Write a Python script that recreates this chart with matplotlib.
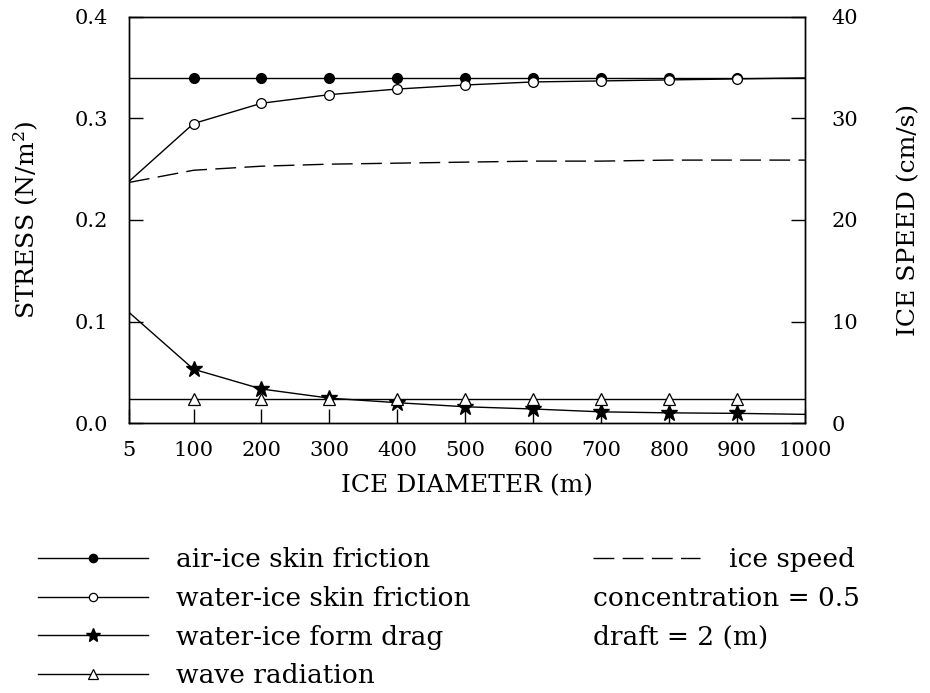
import numpy as np
import matplotlib.pyplot as plt

# ice diameter (m)
diameter = [5, 100, 200, 300, 400, 500, 600, 700, 800, 900, 1000]

# stresses (N/m2)
air_ice_skin = [0.34, 0.34, 0.34, 0.34, 0.34, 0.34, 0.34, 0.34, 0.34, 0.34, 0.34]
water_ice_skin = [0.238, 0.295, 0.315, 0.3235, 0.329, 0.333, 0.336, 0.337, 0.338, 0.339, 0.340]
form_drag = [0.109, 0.053, 0.0335, 0.0245, 0.020, 0.016, 0.0138, 0.011, 0.010, 0.0095, 0.0085]
wave_rad = [0.024] * 11

# ice speed (cm/s)
ice_speed = [23.7, 24.9, 25.3, 25.5, 25.6, 25.7, 25.8, 25.8, 25.9, 25.9, 25.9]

xticks = [5, 100, 200, 300, 400, 500, 600, 700, 800, 900, 1000]

plt.rcParams['font.family'] = ['DejaVu Serif']
plt.rcParams['mathtext.fontset'] = 'dejavuserif'

fig = plt.figure(figsize=(9.3, 6.93), dpi=100)
ax = fig.add_axes([0.1387, 0.3896, 0.7269, 0.5859])
ax2 = ax.twinx()

every = slice(1, 10)
lw = 1.0

l1, = ax.plot(diameter, air_ice_skin, color='k', lw=lw, marker='o', ms=7,
              mfc='k', mec='k', markevery=every)
l2, = ax.plot(diameter, water_ice_skin, color='k', lw=lw, marker='o', ms=7,
              mfc='white', mec='k', mew=0.9, markevery=every)
l3, = ax.plot(diameter, form_drag, color='k', lw=lw, marker='*', ms=12,
              mfc='k', mec='k', markevery=every)
l4, = ax.plot(diameter, wave_rad, color='k', lw=lw, marker='^', ms=9,
              mfc='white', mec='k', mew=0.9, markevery=every)
l5, = ax2.plot(diameter, ice_speed, color='k', lw=lw, dashes=(15, 6))

ax.set_xlim(5, 1000)
ax.set_ylim(0, 0.4)
ax2.set_ylim(0, 40)
ax.set_xticks(xticks)
ax.set_xticklabels([str(v) for v in xticks])
ax.set_yticks([0.0, 0.1, 0.2, 0.3, 0.4])
ax.set_yticklabels(['0.0', '0.1', '0.2', '0.3', '0.4'])
ax2.set_yticks([0, 10, 20, 30, 40])

ax.tick_params(axis='x', direction='in', length=10, width=1, labelsize=15, pad=13)
ax.tick_params(axis='y', direction='in', length=10, width=1, labelsize=15, pad=15)
ax2.tick_params(axis='y', direction='in', length=10, width=1, labelsize=15, pad=19)
for a in (ax, ax2):
    for s in a.spines.values():
        s.set_linewidth(1)

ax.set_ylabel('STRESS (N/m$^2$)', fontsize=18, labelpad=24)
ax2.set_ylabel('ICE SPEED (cm/s)', fontsize=18, labelpad=28)
ax.set_xlabel('ICE DIAMETER (m)', fontsize=18, labelpad=10)

leg1 = fig.legend([l1, l2, l3, l4],
                  ['air-ice skin friction', 'water-ice skin friction',
                   'water-ice form drag', 'wave radiation'],
                  loc='upper left', bbox_to_anchor=(0.041, 0.2105), frameon=False,
                  prop={'size': 19}, handlelength=4.17, handletextpad=1.06,
                  labelspacing=0.52, markerscale=0.85, borderaxespad=0, borderpad=0)
leg2 = fig.legend([l5], ['ice speed'], loc='upper left',
                  bbox_to_anchor=(0.6376, 0.2105), frameon=False,
                  prop={'size': 19}, handlelength=4.05, handletextpad=1.1,
                  borderaxespad=0, borderpad=0)
fig.text(0.6376, 1 - 598 / 693, 'concentration = 0.5', fontsize=19, va='center')
fig.text(0.6376, 1 - 637 / 693, 'draft = 2 (m)', fontsize=19, va='center')

fig.savefig('out.png', dpi=100)
